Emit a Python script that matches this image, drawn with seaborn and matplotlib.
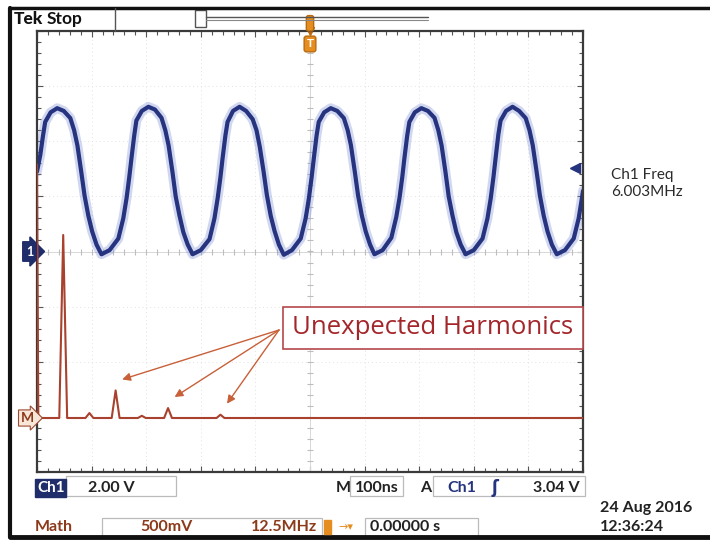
import seaborn as sns
import matplotlib.pyplot as plt
import matplotlib.patches as mpatches
import numpy as np

# Ch1 trace: time (ns) and volts
ch1_time = [-500, -494, -489, -485, -475, -463, -451, -439, -432, -426, -419, -413, -406, -399, -391,
            -382, -367, -351, -342, -336, -331, -327, -322, -318, -308, -296, -284, -272, -265, -259,
            -252, -246, -239, -232, -224,
            -215, -200, -184, -175, -169, -164, -160, -155, -151, -141, -129, -117, -105, -98, -92,
            -85, -79, -72, -65, -57,
            -48, -33, -17, -8, -2, 3, 7, 12, 16, 26, 38, 50, 62, 69, 75,
            82, 88, 95, 102, 110,
            118, 133, 149, 158, 164, 169, 173, 178, 182, 192, 204, 216, 228, 235, 241,
            248, 254, 261, 268, 276,
            285, 300, 316, 325, 331, 336, 340, 345, 349, 359, 371, 383, 395, 402, 408,
            415, 421, 428, 435, 443,
            452, 467, 483, 492, 498, 500]
ch1_volt = [2.9, 3.5, 4.2, 4.7, 5.05, 5.2, 5.1, 4.84, 4.4, 3.85, 2.9, 2.04, 1.3, 0.73, 0.25,
            -0.1, 0.05, 0.47, 1.2, 1.93, 2.7, 3.38, 4.2, 4.75, 5.1, 5.25, 5.15, 4.85, 4.4, 3.85,
            2.9, 2.0, 1.3, 0.7, 0.25,
            -0.1, 0.05, 0.45, 1.2, 1.95, 2.7, 3.4, 4.2, 4.7, 5.1, 5.25, 5.1, 4.8, 4.4, 3.8,
            2.9, 2.05, 1.3, 0.75, 0.25,
            -0.12, 0.05, 0.47, 1.2, 1.93, 2.7, 3.38, 4.2, 4.7, 5.05, 5.2, 5.1, 4.84, 4.4, 3.85,
            2.9, 2.04, 1.3, 0.73, 0.25,
            -0.1, 0.05, 0.5, 1.25, 1.95, 2.7, 3.4, 4.2, 4.7, 5.05, 5.2, 5.1, 4.85, 4.4, 3.85,
            2.9, 2.0, 1.3, 0.7, 0.25,
            -0.1, 0.05, 0.47, 1.2, 1.93, 2.7, 3.4, 4.25, 4.75, 5.1, 5.25, 5.1, 4.84, 4.4, 3.85,
            2.9, 2.04, 1.3, 0.73, 0.25,
            -0.1, 0.05, 0.47, 1.2, 1.93, 2.2]

# Math (FFT) trace: peak frequencies (MHz) and heights (V)
fft_freq = [0, 6, 12, 18, 24, 30, 42]
fft_amp = [2.3, 1.66, 0.045, 0.25, 0.02, 0.09, 0.03]
marked = [18, 30, 42]  # the "unexpected" ones

ch1_scale = 2.0      # V/div
math_scale = 0.5     # V/div
math_hz_div = 12.5   # MHz/div
trig_level = 3.04
ch1_freq = '6.003MHz'

NAVY = '#26337f'
RED = '#a8412d'
ORANGE = '#e58d1f'
BROWN = '#8b3a1a'

sns.set_style('white')
plt.rcParams['font.family'] = ['Lato', 'DejaVu Sans']

W, H = 710, 540
fig = plt.figure(figsize=(7.1, 5.4), dpi=100)
fig.patch.set_facecolor('white')


def fx(px):
    return px / W


def fy(py):
    return 1 - py / H


def line(x0, y0, x1, y1, **kw):
    fig.add_artist(plt.Line2D([fx(x0), fx(x1)], [fy(y0), fy(y1)], transform=fig.transFigure, **kw))


def box(x0, y0, x1, y1, **kw):
    fig.add_artist(mpatches.Rectangle((fx(x0), fy(y1)), fx(x1) - fx(x0), fy(y0) - fy(y1),
                                      transform=fig.transFigure, fill=False, **kw))


# graticule
pos = [fx(37), fy(472), fx(583) - fx(37), fy(31) - fy(472)]
ax = fig.add_axes(pos)
ax.set_xlim(-500, 500)
ax.set_ylim(-4 * ch1_scale, 4 * ch1_scale)
ax.set_xticks(np.arange(-500, 501, 100))
ax.set_yticks(np.arange(-8, 8.1, ch1_scale))
ax.set_xticks(np.arange(-500, 501, 20), minor=True)
ax.set_yticks(np.arange(-8, 8.1, 0.4), minor=True)
ax.tick_params(which='both', direction='in', top=True, right=True, bottom=True, left=True,
               labelbottom=False, labelleft=False, color='#555555', length=4, width=0.8)
ax.tick_params(which='minor', length=3)
ax.grid(True, which='major', color='#e2e2e2', lw=0.7, ls=(0, (1, 3)))
for s in ax.spines.values():
    s.set_color('#3a3a3a')
    s.set_linewidth(1.6)
# center crosshair with small ticks
ax.axvline(0, color='#d8d8d8', lw=0.7)
ax.axhline(0, color='#d8d8d8', lw=0.7)
ax.plot(np.zeros(41), np.arange(-8, 8.01, 0.4), ls='none', marker='_', ms=5, color='#bdbdbd', mew=0.8)
ax.plot(np.arange(-500, 501, 20), np.zeros(51), ls='none', marker='|', ms=5, color='#bdbdbd', mew=0.8)

# Ch1 trace (fuzzy halo + core)
sns.lineplot(x=ch1_time, y=ch1_volt, ax=ax, color='#7f8ed6', lw=7, alpha=0.35, estimator=None)
sns.lineplot(x=ch1_time, y=ch1_volt, ax=ax, color=NAVY, lw=3.0, estimator=None)

# trigger level marker on right, ground marker on left
ax.plot([0.985], [trig_level], transform=ax.get_yaxis_transform(), marker='<', ms=7,
        color=NAVY, clip_on=False)
ax.text(-0.006, 0, '1', transform=ax.get_yaxis_transform(), ha='right', va='center',
        color='white', fontsize=9, fontweight='bold',
        bbox=dict(boxstyle='rarrow,pad=0.3', fc='#1f2d6b', ec='#1f2d6b'))

# Math (FFT) axes on top, same frame
ax2 = fig.add_axes(pos)
ax2.patch.set_alpha(0)
ax2.set_xlim(0, 10 * math_hz_div)
base = (472 - 418) / 441 * 8 * math_scale
ax2.set_ylim(-base, 8 * math_scale - base)
ax2.axis('off')

hw = 0.9
fx_pts, fa_pts = [fft_freq[0]], [fft_amp[0]]
fx_pts += [fft_freq[0] + 0.3]
fa_pts += [0]
for f, a in zip(fft_freq[1:], fft_amp[1:]):
    fx_pts += [f - hw, f, f + hw]
    fa_pts += [0, a, 0]
fx_pts.append(10 * math_hz_div)
fa_pts.append(0)
sns.lineplot(x=fx_pts, y=fa_pts, ax=ax2, color=RED, lw=1.5, estimator=None, sort=False)

ax2.text(-0.006, 0, 'M', transform=ax2.get_yaxis_transform(), ha='right', va='center',
         color=BROWN, fontsize=10, fontweight='bold',
         bbox=dict(boxstyle='rarrow,pad=0.15', fc='#f8e6d8', ec='#9a4a30', lw=0.8))

# annotation
fig.text(fx(433), fy(328), 'Unexpected Harmonics', ha='center', va='center',
         fontsize=18.5, color='#a3262a', family=['Open Sans', 'DejaVu Sans'],
         bbox=dict(boxstyle='square,pad=0.35', fc='white', ec='#b5484a', lw=1.2))
for f in marked:
    a = fft_amp[fft_freq.index(f)]
    ax2.annotate('', xy=(f + 1.5, a + 0.1), xytext=(fx(279), fy(330)), textcoords='figure fraction',
                 arrowprops=dict(arrowstyle='-|>', color='#c8603a', lw=1, mutation_scale=12,
                                 shrinkA=0, shrinkB=0))

# trigger position markers (orange)
ax.text(0, 1.005, ' ', transform=ax.get_xaxis_transform(), ha='center', va='bottom',
        fontsize=8, bbox=dict(boxstyle='round,pad=0.2', fc=ORANGE, ec='#b86a10'))
ax.plot([0], [1.0], transform=ax.get_xaxis_transform(), marker='v', ms=6, color='#c06a10', clip_on=False)
ax.text(0, 0.983, 'T', transform=ax.get_xaxis_transform(), ha='center', va='top',
        fontsize=8.5, fontweight='bold', color='white',
        bbox=dict(boxstyle='round,pad=0.2', fc=ORANGE, ec='#b86a10'))

# outer screen frame
line(10, 8, 710, 8, color='#111111', lw=2.5)
line(10, 8, 10, 537, color='#111111', lw=3)
line(10, 537, 710, 537, color='#111111', lw=3.5)

# top status bar
fig.text(fx(14), fy(19), 'Tek', fontsize=12.5, fontweight='black', va='center', color='#111111')
fig.text(fx(47), fy(19), 'Stop', fontsize=12.5, fontweight='bold', va='center', color='#111111')
line(115, 8, 115, 31, color='#555555', lw=1)
box(195, 10, 206, 27, color='#555555', lw=1)
line(206, 17, 428, 17, color='#555555', lw=1)
line(206, 20, 428, 20, color='#888888', lw=0.8)

# right side readout
fig.text(fx(611), fy(175), 'Ch1 Freq', fontsize=11, va='center', color='#2a2a2a')
fig.text(fx(611), fy(192), ch1_freq, fontsize=11, va='center', color='#2a2a2a')

# bottom readouts row 1
fig.text(fx(37), fy(488), 'Ch1', fontsize=11, fontweight='bold', va='center', color='white',
         bbox=dict(boxstyle='square,pad=0.1', fc='#1f2d6b', ec='#1f2d6b'))
fig.text(fx(88), fy(488), f'{ch1_scale:.2f} V', fontsize=11.5, fontweight='bold', va='center', color='#222222')
box(66, 476, 176, 496, color='#bbbbbb', lw=0.9)
fig.text(fx(336), fy(488), 'M', fontsize=11.5, fontweight='bold', va='center', color='#222222')
box(350, 476, 403, 496, color='#bbbbbb', lw=0.9)
fig.text(fx(355), fy(488), '100ns', fontsize=11.5, fontweight='bold', va='center', color='#222222')
fig.text(fx(420), fy(488), 'A', fontsize=11.5, fontweight='bold', va='center', color='#222222')
box(433, 476, 585, 496, color='#bbbbbb', lw=0.9)
fig.text(fx(447), fy(488), 'Ch1', fontsize=11.5, fontweight='bold', va='center', color='#26337f')
fig.text(fx(492), fy(488), 'ʃ', fontsize=12, fontweight='bold', va='center', color='#26337f',
         family=['DejaVu Sans'])
fig.text(fx(580), fy(488), f'{trig_level:.2f} V', fontsize=11.5, fontweight='bold', va='center',
         ha='right', color='#222222')

# bottom readouts row 2
fig.text(fx(35), fy(527), 'Math', fontsize=11.5, fontweight='bold', va='center', color=BROWN)
box(102, 518, 322, 537, color='#bbbbbb', lw=0.9)
fig.text(fx(140), fy(527), '500mV', fontsize=11.5, fontweight='bold', va='center', color=BROWN)
fig.text(fx(317), fy(527), '12.5MHz', fontsize=11.5, fontweight='bold', va='center', ha='right', color=BROWN)
fig.text(fx(326), fy(527), ' ', fontsize=7, va='center',
         bbox=dict(boxstyle='square,pad=0.25', fc=ORANGE, ec=ORANGE))
fig.text(fx(338), fy(527), '→▾', fontsize=8, va='center', color=ORANGE, family=['DejaVu Sans'])
box(365, 518, 478, 537, color='#bbbbbb', lw=0.9)
fig.text(fx(370), fy(527), '0.00000 s', fontsize=11.5, fontweight='bold', va='center', color='#222222')
fig.text(fx(600), fy(508), '24 Aug 2016', fontsize=11.5, fontweight='bold', va='center', color='#222222')
fig.text(fx(600), fy(527), '12:36:24', fontsize=11.5, fontweight='bold', va='center', color='#222222')

fig.savefig('out.png', dpi=100)
